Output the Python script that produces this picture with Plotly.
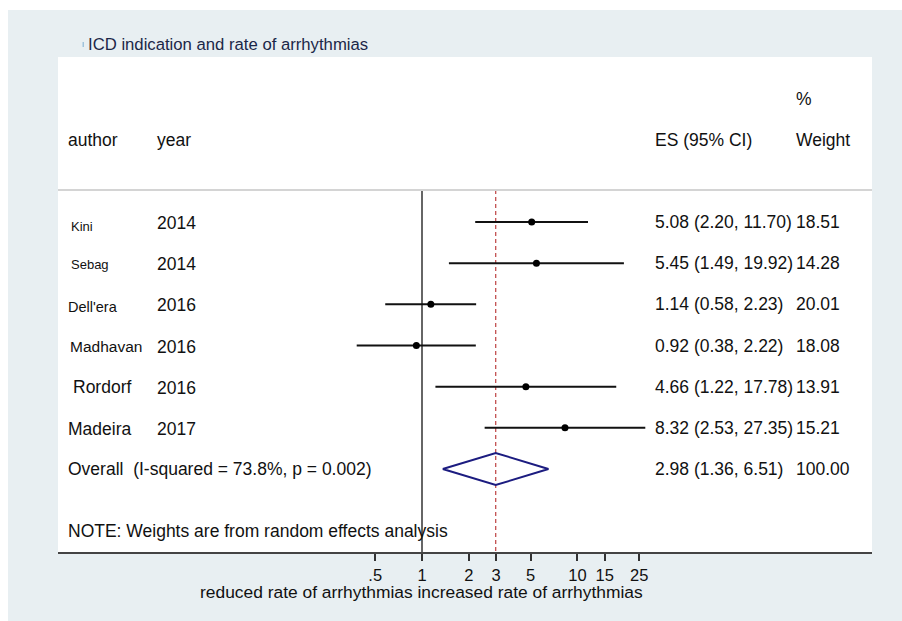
import plotly.graph_objects as go

# ---------------- data ----------------
authors = ["Kini", "Sebag", "Dell'era", "Madhavan", "Rordorf", "Madeira"]
years = ["2014", "2014", "2016", "2016", "2016", "2017"]
es = [5.08, 5.45, 1.14, 0.92, 4.66, 8.32]
ci_low = [2.20, 1.49, 0.58, 0.38, 1.22, 2.53]
ci_high = [11.70, 19.92, 2.23, 2.22, 17.78, 27.35]
weights = ["18.51", "14.28", "20.01", "18.08", "13.91", "15.21"]

overall_es = 2.98
overall_low = 1.36
overall_high = 6.51
overall_weight = "100.00"
overall_label = "Overall\u00a0 (I-squared = 73.8%, p = 0.002)"

tick_vals = [0.5, 1, 2, 3, 5, 10, 15, 25]
tick_text = [".5", "1", "2", "3", "5", "10", "15", "25"]

title_text = "ICD indication and rate of arrhythmias"
note_text = "NOTE: Weights are from random effects analysis"
axis_title = "reduced rate of arrhythmias increased rate of arrhythmias"

# ---------------- layout geometry (page pixels) ----------------
W, H = 902, 621          # figure size (page body margin removed below)
L, R, T, B = 58, 872, 57, 552   # plot area in page pixels
PW, PH = R - L, B - T
FONT = "Liberation Sans, Arial, Helvetica, sans-serif"
PANEL = "#e8eff2"
FS = 17.5
TX = -2                  # annotation text padding compensation


def px(x):
    return (x + TX - L) / PW


def py(y):
    return (B - y) / PH


def pxs(x):
    return (x - L) / PW


n = len(authors)
overall_row = n
y_top, y_bot = -4.008, 8.016
sep_row = -0.78

fig = go.Figure()

# reference line at 1
fig.add_trace(go.Scatter(x=[1, 1], y=[sep_row, y_bot], mode="lines",
                         line=dict(color="#333333", width=1.5), hoverinfo="skip"))
# dashed line at overall effect
fig.add_trace(go.Scatter(x=[overall_es, overall_es], y=[sep_row, y_bot], mode="lines",
                         line=dict(color="#c25050", width=1.3, dash="4px,3px"), hoverinfo="skip"))

# confidence intervals
for i in range(n):
    fig.add_trace(go.Scatter(x=[ci_low[i], ci_high[i]], y=[i, i], mode="lines",
                             line=dict(color="#111111", width=2), hoverinfo="skip"))
# point estimates
fig.add_trace(go.Scatter(x=es, y=list(range(n)), mode="markers",
                         marker=dict(color="#000000", size=7), hoverinfo="skip"))

# overall diamond
dh = 0.39
fig.add_trace(go.Scatter(
    x=[overall_low, overall_es, overall_high, overall_es, overall_low],
    y=[overall_row, overall_row - dh, overall_row, overall_row + dh, overall_row],
    mode="lines", line=dict(color="#1c1c80", width=2), hoverinfo="skip"))

annotations = []


def txt(x, y, s, size=FS, color="#111111", yref="y", xanchor="left", yshift=0):
    annotations.append(dict(x=x, y=y, xref="paper", yref=yref, text=s, showarrow=False,
                            xanchor=xanchor, yanchor="middle", yshift=yshift,
                            font=dict(family=FONT, size=size, color=color)))


# headers
txt(px(68), -2, "author")
txt(px(157), -2, "year")
txt(px(655), -2, "ES (95% CI)")
txt(px(796), -3, "%")
txt(px(796), -2, "Weight")

# per-row label styles (as in the source image)
name_sizes = [13, 13, 14.5, 15.5, 17.5, 17.5]
name_x = [71, 71, 68, 70, 73, 68]
name_shift = [-4, -1, -3, -1, 0, -1]

for i in range(n):
    txt(px(name_x[i]), i, authors[i], size=name_sizes[i], yshift=name_shift[i])
    txt(px(157), i, years[i], yshift=-1)
    es_str = f"{es[i]:.2f} ({ci_low[i]:.2f}, {ci_high[i]:.2f})"
    txt(px(655), i, es_str)
    txt(px(796), i, weights[i])

txt(px(68), overall_row, overall_label)
txt(px(655), overall_row, f"{overall_es:.2f} ({overall_low:.2f}, {overall_high:.2f})")
txt(px(796), overall_row, overall_weight)

txt(px(68), 7.5, note_text)

# title and axis title
txt(px(88), py(44), title_text, size=16.7, color="#1b2748", yref="paper")
annotations.append(dict(x=pxs(421), y=py(592), xref="paper", yref="paper", text=axis_title,
                        showarrow=False, xanchor="center", yanchor="middle",
                        font=dict(family=FONT, size=17.4, color="#111111")))

shapes = [
    # white border above and left of the panel
    dict(type="rect", xref="paper", yref="paper", x0=pxs(-2), x1=pxs(W + 2), y0=py(10), y1=py(-2),
         fillcolor="white", line=dict(width=0), layer="below"),
    dict(type="rect", xref="paper", yref="paper", x0=pxs(-2), x1=pxs(8), y0=py(H + 2), y1=py(-2),
         fillcolor="white", line=dict(width=0), layer="below"),
    # header separator
    dict(type="line", xref="paper", yref="paper", x0=0, x1=1, y0=py(190), y1=py(190),
         line=dict(color="#d4d4d4", width=2)),
    # tiny marker before the title
    dict(type="rect", xref="paper", yref="paper", x0=pxs(82.5), x1=pxs(84), y0=py(47), y1=py(42),
         fillcolor="#9fc3dc", line=dict(width=0)),
]

fig.update_layout(
    width=W, height=H,
    margin=dict(l=L, r=W - R, t=T, b=H - B, pad=0),
    paper_bgcolor=PANEL, plot_bgcolor="white",
    showlegend=False,
    font=dict(family=FONT, size=FS, color="#111111"),
    annotations=annotations, shapes=shapes,
    xaxis=dict(type="log",
               range=[(L - 422) / 155.4, (R - 422) / 155.4],
               tickvals=tick_vals, ticktext=tick_text,
               ticks="outside", ticklen=7, tickwidth=1.5, tickcolor="#333333",
               showline=True, linecolor="#444444", linewidth=2,
               showgrid=False, zeroline=False,
               tickfont=dict(family=FONT, size=16.5, color="#111111")),
    yaxis=dict(range=[y_bot, y_top], visible=False, showgrid=False, zeroline=False),
)

fig.write_html("out.html",
               config={"displayModeBar": False},
               post_script="document.body.style.margin='0';document.body.style.overflow='hidden';")
